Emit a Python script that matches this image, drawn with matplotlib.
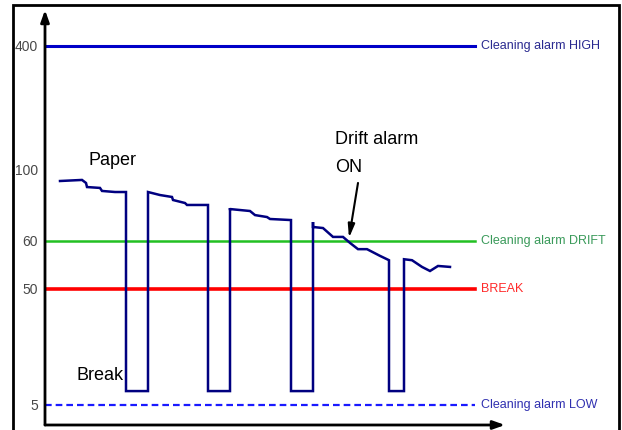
import numpy as np
import matplotlib
matplotlib.use("Agg")
import matplotlib.pyplot as plt
from matplotlib.patches import Rectangle

# Alarm levels and their labels
alarm_levels = [400, 60, 50, 5]
alarm_labels = ["Cleaning alarm HIGH", "Cleaning alarm DRIFT", "BREAK", "Cleaning alarm LOW"]
tick_values = [5, 50, 60, 100, 400]
tick_labels = ["5", "50", "60", "100", "400"]

# Paper signal (time, level)
time = [15, 37, 41, 42, 55, 57, 70, 81, 81, 103,
        103, 115, 127, 128, 140, 142, 163, 163, 185,
        185, 185, 205, 210, 222, 225, 246, 246, 268,
        268, 268, 278, 288, 298, 305, 313, 322, 335, 344, 344, 359,
        359, 367, 377, 385, 393, 405]
level = [93.8, 94.4, 92.7, 90.4, 89.9, 88.2, 87.6, 87.6, 10.4, 10.4,
         87.6, 85.9, 84.8, 83.1, 81.4, 80.3, 80.3, 10.4, 10.4,
         78.6, 78.0, 76.9, 74.6, 73.5, 72.4, 71.8, 10.4, 10.4,
         70.7, 67.9, 67.3, 62.3, 62.3, 59.6, 58.3, 58.3, 56.9, 56.0, 10.4, 10.4,
         56.2, 56.0, 54.6, 53.75, 54.8, 54.6]

# Non-linear vertical scale (level -> height)
scale_lv = [0, 5, 50, 60, 100, 400, 550]
scale_h = [0, 20, 136, 184, 255, 379, 415]


def fwd(v):
    return np.interp(v, scale_lv, scale_h)


def inv(h):
    return np.interp(h, scale_h, scale_lv)


plt.rcParams['font.family'] = ['Liberation Sans', 'DejaVu Sans']
fig = plt.figure(figsize=(6.22, 4.30), dpi=100)
W, H = 622, 430
ax = fig.add_axes([45 / W, 5 / H, 460 / W, 415 / H])
ax.set_yscale('function', functions=(fwd, inv))
ax.set_xlim(0, 460)
ax.set_ylim(0, 550)
for s in ax.spines.values():
    s.set_visible(False)
ax.set_xticks([])
ax.set_yticks(tick_values, tick_labels)
ax.tick_params(axis='y', length=0, pad=5, labelsize=10, labelcolor='#484848')
ax.patch.set_alpha(0)

# Axis arrows
arrow = dict(arrowstyle='-|>,head_length=0.7,head_width=0.25', lw=2, color='black',
             shrinkA=0, shrinkB=0)
ax.annotate('', xy=(0, 1), xytext=(0, 0), xycoords='axes fraction', arrowprops=arrow)
ax.annotate('', xy=(1, 0), xytext=(0, 0), xycoords='axes fraction', arrowprops=arrow)

# Alarm lines
line_colors = ['#0000c8', '#22c022', '#ff0000', '#1a1aff']
text_colors = ['#2a2a90', '#3a9a5a', '#ff2a2a', '#3030b0']
styles = ['-', '-', '-', '--']
widths = [2.2, 1.8, 2.6, 1.6]
for lv, lab, lc, tc, ls, lw in zip(alarm_levels, alarm_labels, line_colors,
                                    text_colors, styles, widths):
    ln, = ax.plot([0, 430], [lv, lv], color=lc, ls=ls, lw=lw)
    if ls == '--':
        ln.set_dashes((3, 1.8))
    ax.text(436, lv, lab, color=tc, fontsize=9, va='center', ha='left')

# Paper signal
ax.plot(time, level, color='#000080', lw=1.8, solid_joinstyle='miter')

# Annotations
ax.text(44, 124, "Paper", fontsize=13, ha='left', va='center')
ax.text(31, 16.6, "Break", fontsize=13, ha='left', va='center')
ax.text(290, 172.6, "Drift alarm", fontsize=13, ha='left', va='center')
ax.text(290, 107, "ON", fontsize=13, ha='left', va='center')
ax.annotate('', xy=(304, 61.7), xytext=(313, 92.7),
            arrowprops=dict(arrowstyle='-|>,head_length=0.8,head_width=0.2',
                            lw=1.5, color='black', shrinkA=0, shrinkB=0))

# Outer frame
fig.patches.append(Rectangle((12.5 / W, -0.1), (619 - 12.5) / W, 1.1 - 5 / H,
                             transform=fig.transFigure, fill=False, lw=2,
                             edgecolor='black'))

fig.savefig("out.png", dpi=100)
